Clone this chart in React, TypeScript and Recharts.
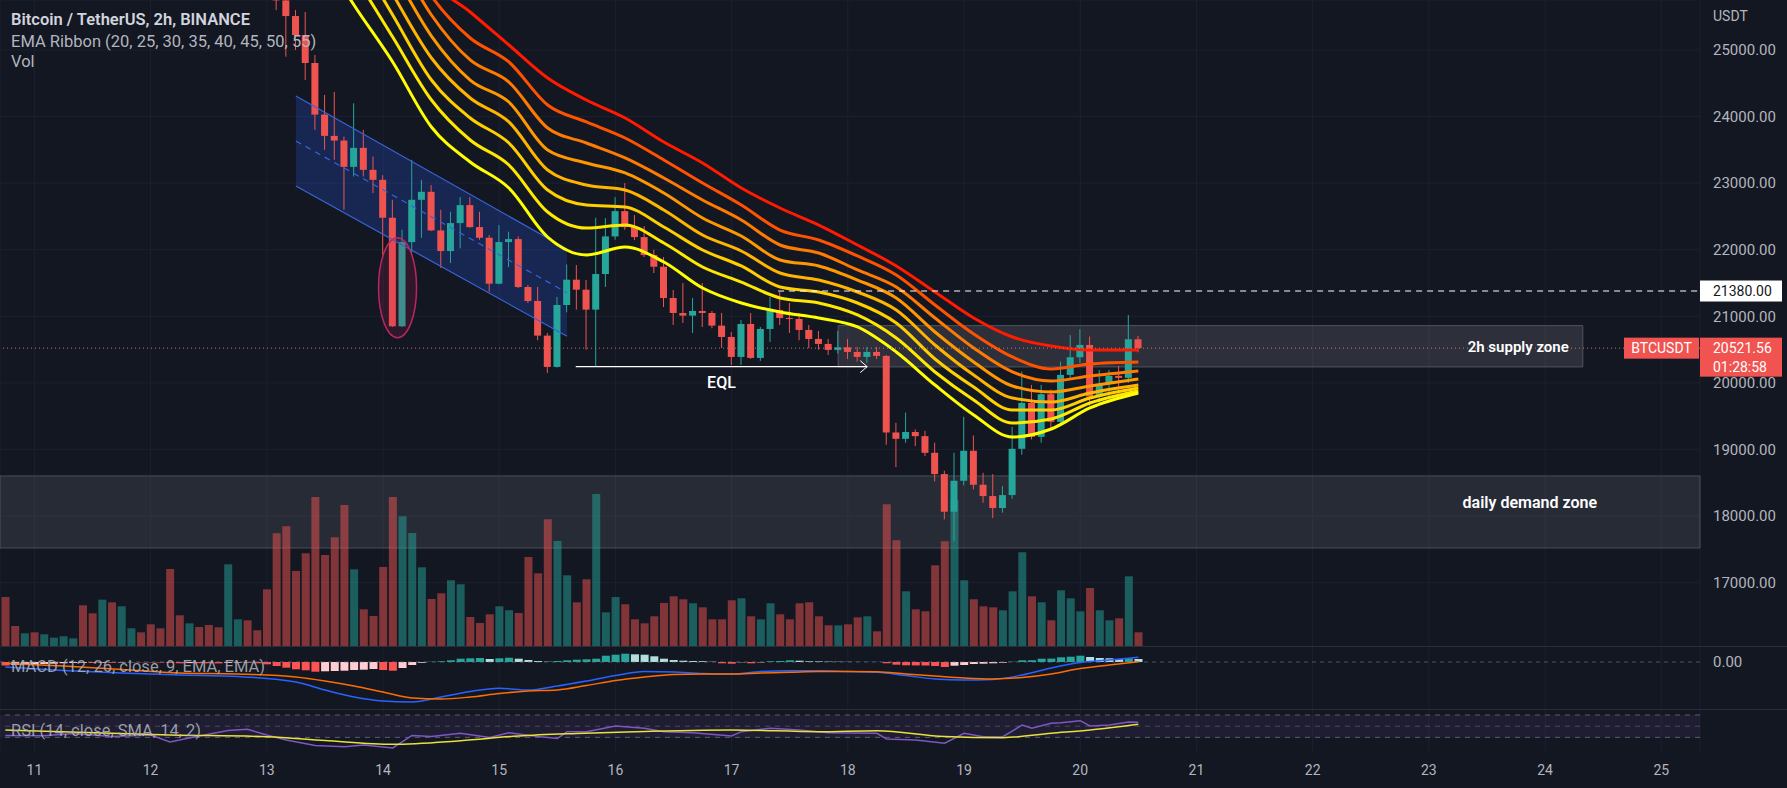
import React from "react";
import {
  ComposedChart,
  Bar,
  Line,
  Area,
  XAxis,
  YAxis,
  CartesianGrid,
  ReferenceLine,
  ReferenceArea,
  ReferenceDot,
  Cell
} from "recharts";

// BTC/USDT 2h candles, index 0 = Jun 10 18:00
const opens = [29700,29300,29100,29260,29150,29230,29330,29400,29430,28900,
  28600,28960,28600,28820,28900,28750,28550,28400,27600,27350,
  27560,27300,27150,26980,27250,27330,27000,26720,26200,25745,
  25510,25225,24805,24030,23710,23640,23245,23530,23200,23050,
  22480,20850,22115,22750,22870,22290,21980,22400,22670,22340,
  22180,21490,22115,22160,21440,21230,20710,20240,21170,21550,
  21400,21100,21635,22200,22580,22340,22190,21920,21745,21275,
  21050,21010,21080,21050,20860,20690,20390,20885,20375,20810,
  21095,20975,20960,20795,20660,20585,20495,20535,20465,20390,
  20465,20405,19255,19160,19262,19200,18950,18630,18065,18530,
  18980,18470,18300,18120,18315,19010,19700,19190,19830,19415,
  20120,20385,20570,19795,19985,20105,20075,20655];
const highs = [29820,29420,29350,29300,29310,29380,29460,29490,29440,29010,
  29060,29000,28900,28950,28950,28800,28600,28450,27800,27650,
  27600,27400,27250,27350,27400,27350,27050,26780,26260,25800,
  25600,25570,24925,24325,24370,23700,24200,23800,23400,23120,
  22750,22300,23350,23050,22970,22600,22570,22790,22790,22570,
  22220,22370,22270,22200,21470,21440,20750,21290,21780,21770,
  21545,22480,22475,22790,23000,22520,22355,22000,21890,21395,
  21500,21275,21500,21080,21050,20765,20945,21050,20840,21290,
  21365,21200,21050,20870,20780,20660,20780,20660,20540,20540,
  20540,20420,19400,19555,19300,19280,19100,18680,18950,19490,
  19210,18650,18630,18450,19340,20170,19970,19970,19900,20320,
  20720,20805,20695,20195,20195,20255,21020,20705];
const lows = [29150,29020,29050,29060,29100,29180,29280,29350,28800,28500,
  28550,28450,28500,28700,28650,28450,28300,27500,27250,27300,
  27200,27050,26900,26600,27150,26950,26650,26100,25600,24900,
  25000,24550,23800,23500,23350,22600,23100,23100,22850,21920,
  20840,20840,21950,22180,22280,21725,21800,22020,22330,22150,
  21370,21480,21740,21425,21200,20640,20150,20230,21060,21100,
  20500,20240,21440,22150,22300,22145,21890,21650,21140,20870,
  20900,20750,20840,20820,20525,20270,20270,20360,20330,20615,
  20870,20750,20640,20520,20500,20420,20440,20360,20320,20300,
  20360,19070,18735,19100,19050,18900,18520,17950,17620,18460,
  18400,18200,17970,18050,18260,18920,19150,19100,19300,19380,
  20050,20300,19655,19670,19775,19775,20000,20460];
const closes = [29300,29100,29260,29150,29230,29330,29400,29430,28900,28600,
  28960,28600,28820,28900,28750,28550,28400,27600,27350,27560,
  27300,27150,26980,27250,27330,27000,26720,26200,25745,25510,
  25225,24805,24030,23710,23640,23245,23530,23200,23050,22480,
  20850,22115,22750,22870,22290,21980,22400,22670,22340,22180,
  21490,22115,22160,21440,21230,20710,20240,21170,21550,21400,
  21100,21635,22200,22580,22340,22190,21920,21745,21275,21050,
  21010,21080,21050,20860,20690,20390,20885,20375,20810,21095,
  20975,20960,20795,20660,20585,20495,20535,20465,20390,20465,
  20405,19255,19160,19262,19200,18950,18630,18065,18530,18980,
  18470,18300,18120,18315,19010,19700,19190,19830,19415,20120,
  20385,20570,19795,19985,20105,20075,20655,20521.56];
const volumes = [15000,6300,4100,4400,3800,2800,3200,2600,12500,10100,
  14200,13400,12200,5600,4400,6800,5600,23400,9500,7100,
  6000,6600,5900,24800,8300,8000,5000,17300,34100,36200,
  22800,28100,45000,27600,32900,42600,23300,11300,9300,24000,
  45000,39200,34200,23900,14400,16100,20000,18800,9000,7200,
  9800,12200,11000,10200,27000,22100,38300,31800,21500,13400,
  20300,45900,10400,15000,12800,8300,7100,9200,13200,15200,
  14300,13100,11900,8300,8300,14000,14600,9200,8300,13100,
  9800,8300,13100,13400,9200,6500,6500,6800,8900,9200,
  4700,42800,32000,16700,11300,10700,24500,31700,44000,20000,
  14300,12200,11900,11000,16700,28400,15200,13400,8000,17000,
  14600,10700,17700,11000,8000,8600,21200,4400];

// EMA ribbon, read at every 4th candle
const emaIdx = [28,32,36,40,44,48,52,56,60,64,68,72,76,80,84,88,92,96,100,104,108,112,117];
const ema20 = [27400,26600,25676,24820,23843,23318,22927,22191,21921,22041,21816,21425,21200,21065,20975,20840,20464,19968,19518,19187,19307,19623,19848];
const ema25 = [27750,27000,26127,25195,24249,23648,23273,22567,22326,22372,22101,21741,21515,21275,21200,21020,20674,20164,19743,19398,19458,19698,19878];
const ema30 = [28100,27400,26502,25526,24549,23979,23603,22897,22672,22642,22341,21996,21756,21440,21365,21200,20900,20359,19938,19593,19593,19773,19923];
const ema35 = [28400,27750,26878,25841,24880,24279,23919,23198,22972,22897,22597,22221,21981,21651,21545,21365,21095,20569,20118,19773,19713,19848,19968];
const ema40 = [28700,28100,27253,26202,25210,24549,24219,23498,23303,23153,22852,22477,22206,21846,21756,21545,21275,20764,20314,19953,19863,19953,20058];
const ema45 = [28950,28400,27583,26532,25526,24850,24519,23829,23603,23378,23078,22747,22447,22071,21951,21696,21440,20975,20524,20164,20028,20104,20179];
const ema50 = [29200,28700,27929,26832,25811,25180,24820,24174,23919,23678,23348,23002,22672,22296,22146,21906,21621,21170,20734,20389,20209,20284,20314];
const ema55 = [29400,28950,28229,27133,26051,25571,25075,24579,24249,23979,23618,23303,22927,22627,22371,22071,21756,21365,20975,20689,20554,20494,20494];

// MACD (12, 26, 9)
const macdHist = [-105,-90,-81,-69,-60,-51,-39,-30,-24,-30,
  -21,-24,-15,-9,-9,-12,-15,-30,-39,-33,
  -36,-39,-42,-27,-18,-24,-39,-69,-120,-171,
  -219,-249,-291,-279,-270,-261,-240,-231,-210,-240,
  -261,-180,-90,-24,9,21,51,99,111,120,
  90,111,129,99,60,30,9,30,51,69,
  81,99,189,219,249,231,219,171,99,60,
  39,30,24,9,-39,-51,-9,-39,-12,21,
  30,51,39,21,18,12,9,6,3,5,
  3,-39,-81,-99,-102,-105,-120,-150,-111,-90,
  -60,-51,-39,-21,9,51,54,99,102,141,
  159,189,150,120,111,81,111,90];
const macdIdx = [0,6,12,18,24,30,33,36,39,42,45,48,51,54,57,60,63,66,69,72,75,78,81,84,87,90,93,96,99,102,105,108,111,114,117];
const macdLine = [-150,-255,-330,-390,-435,-600,-840,-1050,-1170,-1200,-1050,-885,-789,-840,-720,-570,-405,-285,-300,-345,-360,-285,-261,-261,-285,-309,-405,-510,-540,-525,-390,-180,-15,60,141];
const signalLine = [-45,-120,-225,-330,-360,-450,-570,-720,-900,-1080,-1110,-1050,-945,-870,-840,-705,-555,-450,-375,-360,-360,-330,-309,-285,-285,-291,-360,-420,-480,-510,-465,-360,-195,-90,9];

// RSI (14) and its SMA
const rsiIdx = [0,4,7,11,15,17,20,23,25,27,29,32,35,37,40,42,44,47,50,52,55,57,58,60,63,66,68,71,75,76,79,82,85,90,91,94,97,99,101,103,105,106,108,109,111,112,114,116,117];
const rsiValues = [33.4,33.0,37.0,31.6,34.3,21.8,32.5,42.3,44.5,34.3,25.4,15.5,13.4,16.4,11.1,33.4,31.6,37.3,29.8,38.4,31.6,28.0,40.2,40.2,50.4,46.3,40.2,38.4,32.5,40.2,46.3,43.2,38.4,37.3,27.1,25.4,19.5,37.3,31.2,31.2,52.1,46.3,55.2,56.3,59.8,50.4,52.1,57.5,57.0];
const rsiMaIdx = [0,17,27,33,40,47,53,59,65,75,84,90,97,103,108,112,117];
const rsiMaValues = [43.2,34.3,31.2,24.5,17.7,24.1,32.5,37.0,40.2,43.2,40.2,42.0,31.6,29.5,37.3,43.2,53.4];

// drawings
const channelIdx = [30, 58];
const channelUpper = [24309, 22010];
const channelLower = [22957, 20700];
const channelMid = [23633, 21355];
const supplyZone = [20240, 20860];
const supplyFrom = [86, 162.9];
const demandZone = [17520, 18602];
const eqlLevel = 20244;
const eqlFrom = [58.9, 89];
const resistance = 21380;
const lastPrice = 20521.56;

const dayTicks = [3, 15, 27, 39, 51, 63, 75, 87, 99, 111, 123, 135, 147, 159, 171];
const dayLabels = ["11","12","13","14","15","16","17","18","19","20","21","22","23","24","25"];
const priceTicks = [17000, 18000, 19000, 20000, 21000, 22000, 23000, 24000, 25000];

const W = 1787;
const H = 788;
const AXIS_W = 87;
const MAIN_H = 647;
const MACD_H = 63;
const RSI_H = 42;
const TIME_H = 36;
const X_DOMAIN = [-0.553, 175.0];
const P_DOMAIN = [16033, 25751];

const BG = "#131722";
const GRID = "#1c2030";
const SEP = "#2a2e39";
const TEXT = "#b2b5be";
const UP = "#26a69a";
const DOWN = "#ef5350";
const FONT = "Roboto, 'Open Sans', sans-serif";

const emaKeys = ["e55", "e50", "e45", "e40", "e35", "e30", "e25", "e20"];
const emaSeries = [ema55, ema50, ema45, ema40, ema35, ema30, ema25, ema20];
const emaColors = ["#ff1a00", "#ff5200", "#ff7a00", "#ff9800", "#ffb400", "#ffcf00", "#ffe800", "#ffff00"];

const rows: any[] = opens.map((o, i) => ({
  i,
  o,
  h: highs[i],
  l: lows[i],
  c: closes[i],
  v: volumes[i],
  hist: macdHist[i]
}));
emaIdx.forEach((idx, k) => {
  emaKeys.forEach((key, j) => {
    rows[idx][key] = emaSeries[j][k];
  });
});
macdIdx.forEach((idx, k) => {
  rows[idx].macd = macdLine[k];
  rows[idx].signal = signalLine[k];
});
rsiIdx.forEach((idx, k) => (rows[idx].rsi = rsiValues[k]));
rsiMaIdx.forEach((idx, k) => (rows[idx].rsiMa = rsiMaValues[k]));
channelIdx.forEach((idx, k) => {
  rows[idx].chBand = [channelLower[k], channelUpper[k]];
  rows[idx].chTop = channelUpper[k];
  rows[idx].chBot = channelLower[k];
  rows[idx].chMid = channelMid[k];
});

const histColor = (i: number) => {
  const v = macdHist[i];
  const prev = i > 0 ? macdHist[i - 1] : v;
  if (v >= 0) return v >= prev ? "#26a69a" : "#b2dfdb";
  return v <= prev ? "#ff5252" : "#ffcdd2";
};

const Candle = (props: any) => {
  const { x, y, width, height, payload } = props;
  const { o, h, l, c } = payload;
  const top = Math.min(y, y + height);
  const hh = Math.abs(height);
  const k = h === l ? 0 : hh / (h - l);
  const color = c >= o ? UP : DOWN;
  const bTop = top + (h - Math.max(o, c)) * k;
  const bBot = top + (h - Math.min(o, c)) * k;
  const cx = x + width / 2;
  return (
    <g>
      <line x1={cx} x2={cx} y1={top} y2={top + hh} stroke={color} strokeWidth={1} />
      <rect x={x} y={bTop} width={width} height={Math.max(1, bBot - bTop)} fill={color} />
    </g>
  );
};

const PriceTag = ({ viewBox }: any) => {
  const right = viewBox.x + viewBox.width;
  const y = viewBox.y;
  return (
    <g fontFamily={FONT}>
      <rect x={right - 76} y={y - 10.5} width={75} height={21} fill="#f05350" />
      <text x={right - 38.5} y={y} textAnchor="middle" dominantBaseline="central" fill="#fff" fontSize={14}>
        BTCUSDT
      </text>
      <rect x={right} y={y - 10.5} width={82} height={39} fill="#f05350" />
      <text x={right + 13} y={y} dominantBaseline="central" fill="#fff" fontSize={14}>
        {lastPrice.toFixed(2)}
      </text>
      <text x={right + 13} y={y + 19} dominantBaseline="central" fill="#fff" fontSize={14}>
        01:28:58
      </text>
    </g>
  );
};

const LevelTag = ({ viewBox }: any) => {
  const right = viewBox.x + viewBox.width;
  const y = viewBox.y;
  return (
    <g fontFamily={FONT}>
      <rect x={right} y={y - 10.5} width={82} height={21} fill="#ffffff" />
      <text x={right + 13} y={y} dominantBaseline="central" fill="#131722" fontSize={14}>
        {resistance.toFixed(2)}
      </text>
    </g>
  );
};

const EqlLabel = ({ viewBox }: any) => {
  const end = viewBox.x + viewBox.width;
  const y = viewBox.y;
  return (
    <g fontFamily={FONT}>
      <polyline points={`${end - 7},${y - 6} ${end},${y} ${end - 7},${y + 6}`} fill="none" stroke="#ffffff" strokeWidth={1} />
      <text x={viewBox.x + viewBox.width / 2} y={y + 16} textAnchor="middle" dominantBaseline="central" fill="#ffffff" fontSize={16} fontWeight={500}>
        EQL
      </text>
    </g>
  );
};

const DemandLabel = ({ viewBox }: any) => (
  <text
    x={viewBox.x + viewBox.width - 103}
    y={viewBox.y + viewBox.height / 2 - 9}
    textAnchor="end"
    dominantBaseline="central"
    fill="#ffffff"
    fontSize={16}
    fontWeight={600}
    fontFamily={FONT}
  >
    daily demand zone
  </text>
);

const legendStyle: React.CSSProperties = {
  position: "absolute",
  left: 11,
  fontSize: 16.5,
  lineHeight: "20px",
  color: TEXT,
  whiteSpace: "nowrap"
};

export default function App() {
  return (
    <div style={{ position: "absolute", left: 0, top: 0, width: W, height: H, background: BG, overflow: "hidden", fontFamily: FONT }}>
      <div style={{ position: "absolute", left: 0, top: 0 }}>
        <ComposedChart width={W} height={MAIN_H} data={rows} margin={{ top: 0, right: 0, bottom: 0, left: 0 }}>
          <CartesianGrid xAxisId="x" yAxisId="p" stroke={GRID} />
          <XAxis xAxisId="x" dataKey="i" type="number" domain={X_DOMAIN} ticks={dayTicks} allowDataOverflow hide />
          <XAxis xAxisId="xv" dataKey="i" type="number" domain={X_DOMAIN} allowDataOverflow hide />
          <YAxis
            yAxisId="p"
            orientation="right"
            width={AXIS_W}
            domain={P_DOMAIN}
            ticks={priceTicks}
            allowDataOverflow
            axisLine={false}
            tickLine={false}
            tickSize={0}
            tickMargin={13}
            tick={{ fill: TEXT, fontSize: 15, fontFamily: FONT }}
            tickFormatter={(v: number) => v.toFixed(2)}
          />
          <YAxis yAxisId="vol" domain={[0, 194000]} hide />
          <Bar xAxisId="xv" yAxisId="vol" dataKey="v" barSize={8} isAnimationActive={false}>
            {rows.map((r) => (
              <Cell key={r.i} fill={r.c >= r.o ? UP : DOWN} fillOpacity={0.5} />
            ))}
          </Bar>
          <ReferenceArea
            xAxisId="x"
            yAxisId="p"
            x1={X_DOMAIN[0]}
            x2={X_DOMAIN[1]}
            y1={demandZone[0]}
            y2={demandZone[1]}
            fill="#9598a1"
            fillOpacity={0.16}
            stroke="#4a4e59"
            strokeWidth={1}
            label={<DemandLabel />}
          />
          <Area
            xAxisId="x"
            yAxisId="p"
            dataKey="chBand"
            type="linear"
            stroke="none"
            fill="#2962ff"
            fillOpacity={0.22}
            connectNulls
            isAnimationActive={false}
          />
          <Line xAxisId="x" yAxisId="p" dataKey="chTop" type="linear" stroke="#3764d8" strokeWidth={1.2} dot={false} activeDot={false} connectNulls isAnimationActive={false} />
          <Line xAxisId="x" yAxisId="p" dataKey="chBot" type="linear" stroke="#3764d8" strokeWidth={1.2} dot={false} activeDot={false} connectNulls isAnimationActive={false} />
          <Line xAxisId="x" yAxisId="p" dataKey="chMid" type="linear" stroke="#3764d8" strokeWidth={1.2} strokeDasharray="6 5" dot={false} activeDot={false} connectNulls isAnimationActive={false} />
          <Bar xAxisId="x" yAxisId="p" dataKey={(d: any) => [d.l, d.h]} barSize={7} shape={<Candle />} isAnimationActive={false} />
          {emaKeys.map((key, j) => (
            <Line
              key={key}
              xAxisId="x"
              yAxisId="p"
              dataKey={key}
              type="monotone"
              stroke={emaColors[j]}
              strokeWidth={3}
              dot={false}
              activeDot={false}
              connectNulls
              isAnimationActive={false}
            />
          ))}
          <ReferenceArea
            xAxisId="x"
            yAxisId="p"
            x1={supplyFrom[0]}
            x2={supplyFrom[1]}
            y1={supplyZone[0]}
            y2={supplyZone[1]}
            fill="#9598a1"
            fillOpacity={0.2}
            stroke="#50535e"
            strokeWidth={1}
            label={{ value: "2h supply zone", position: "insideRight", offset: 14, fill: "#ffffff", fontSize: 15, fontWeight: 600, fontFamily: FONT }}
          />
          <ReferenceLine
            xAxisId="x"
            yAxisId="p"
            segment={[{ x: 79.8, y: resistance }, { x: X_DOMAIN[1], y: resistance }]}
            stroke="#ffffff"
            strokeDasharray="6 5"
            label={<LevelTag />}
          />
          <ReferenceLine
            xAxisId="x"
            yAxisId="p"
            y={lastPrice}
            stroke="#c96f78"
            strokeDasharray="1 3"
            label={<PriceTag />}
          />
          <ReferenceLine
            xAxisId="x"
            yAxisId="p"
            segment={[{ x: eqlFrom[0], y: eqlLevel }, { x: eqlFrom[1], y: eqlLevel }]}
            stroke="#ffffff"
            strokeWidth={1.2}
            label={<EqlLabel />}
          />
          <ReferenceDot
            xAxisId="x"
            yAxisId="p"
            x={40.5}
            y={21430}
            r={0}
            shape={(p: any) => (
              <ellipse cx={p.cx} cy={p.cy} rx={19} ry={50} fill="#b0245a" fillOpacity={0.18} stroke="#b8285e" strokeWidth={1.5} />
            )}
          />
        </ComposedChart>
      </div>

      <div style={{ position: "absolute", left: 0, top: MAIN_H - 1, width: W, height: 1, background: SEP }} />
      <div style={{ position: "absolute", left: 0, top: MAIN_H }}>
        <ComposedChart width={W} height={MACD_H} data={rows} margin={{ top: 0, right: 0, bottom: 0, left: 0 }}>
          <CartesianGrid stroke={GRID} horizontal={false} />
          <XAxis dataKey="i" type="number" domain={X_DOMAIN} ticks={dayTicks} allowDataOverflow hide />
          <YAxis
            orientation="right"
            width={AXIS_W}
            domain={[-1440, 450]}
            ticks={[0]}
            allowDataOverflow
            axisLine={false}
            tickLine={false}
            tickSize={0}
            tickMargin={13}
            tick={{ fill: TEXT, fontSize: 15, fontFamily: FONT }}
            tickFormatter={(v: number) => v.toFixed(2)}
          />
          <ReferenceLine y={0} stroke="#787b86" strokeOpacity={0.6} strokeDasharray="4 4" />
          <Bar dataKey="hist" barSize={8} isAnimationActive={false}>
            {rows.map((r) => (
              <Cell key={r.i} fill={histColor(r.i)} />
            ))}
          </Bar>
          <Line dataKey="macd" type="monotone" stroke="#2962ff" strokeWidth={1.5} dot={false} activeDot={false} connectNulls isAnimationActive={false} />
          <Line dataKey="signal" type="monotone" stroke="#ff6d00" strokeWidth={1.5} dot={false} activeDot={false} connectNulls isAnimationActive={false} />
        </ComposedChart>
      </div>

      <div style={{ position: "absolute", left: 0, top: MAIN_H + MACD_H - 1, width: W, height: 1, background: SEP }} />
      <div style={{ position: "absolute", left: 0, top: MAIN_H + MACD_H }}>
        <ComposedChart width={W} height={RSI_H + TIME_H} data={rows} margin={{ top: 0, right: 0, bottom: 0, left: 0 }}>
          <CartesianGrid stroke={GRID} horizontal={false} />
          <XAxis
            dataKey="i"
            type="number"
            domain={X_DOMAIN}
            ticks={dayTicks}
            allowDataOverflow
            height={TIME_H}
            axisLine={false}
            tickLine={false}
            tickSize={0}
            tickMargin={13}
            tick={{ fill: TEXT, fontSize: 14, fontFamily: FONT }}
            tickFormatter={(v: number) => dayLabels[dayTicks.indexOf(v)]}
          />
          <YAxis orientation="right" width={AXIS_W} domain={[3.9, 78.9]} allowDataOverflow axisLine={false} tickLine={false} tick={false} />
          <ReferenceArea y1={30} y2={70} fill="#7e57c2" fillOpacity={0.1} stroke="none" />
          <ReferenceLine y={70} stroke="#787b86" strokeOpacity={0.7} strokeDasharray="5 5" />
          <ReferenceLine y={50} stroke="#787b86" strokeOpacity={0.5} strokeDasharray="5 5" />
          <ReferenceLine y={30} stroke="#787b86" strokeOpacity={0.7} strokeDasharray="5 5" />
          <Line dataKey="rsi" type="linear" stroke="#7e57c2" strokeWidth={1.5} dot={false} activeDot={false} connectNulls isAnimationActive={false} />
          <Line dataKey="rsiMa" type="monotone" stroke="#e8e23a" strokeWidth={1.5} dot={false} activeDot={false} connectNulls isAnimationActive={false} />
        </ComposedChart>
      </div>

      <div style={{ ...legendStyle, top: 10, color: "#d1d4dc", fontWeight: 600 }}>Bitcoin / TetherUS, 2h, BINANCE</div>
      <div style={{ ...legendStyle, top: 32 }}>EMA Ribbon (20, 25, 30, 35, 40, 45, 50, 55)</div>
      <div style={{ ...legendStyle, top: 52 }}>Vol</div>
      <div style={{ ...legendStyle, top: MAIN_H + 10, color: "rgba(178,181,190,0.85)" }}>MACD (12, 26, close, 9, EMA, EMA)</div>
      <div style={{ ...legendStyle, top: MAIN_H + MACD_H + 11, color: "rgba(178,181,190,0.85)" }}>RSI (14, close, SMA, 14, 2)</div>
      <div style={{ ...legendStyle, left: W - AXIS_W + 13, top: 6, fontSize: 14 }}>USDT</div>
    </div>
  );
}
